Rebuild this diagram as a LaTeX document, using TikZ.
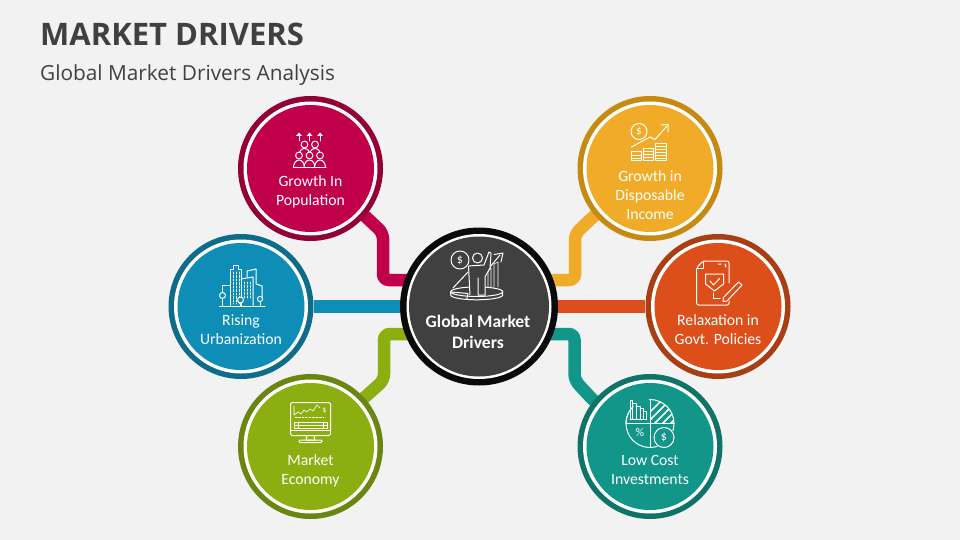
\documentclass[tikz,border=0pt]{standalone}
\usepackage{fontspec}
\setmainfont{Carlito}
\newfontfamily\titlefont{Open Sans}
\usetikzlibrary{backgrounds}
\definecolor{pagebg}{HTML}{F2F2F2}
\definecolor{inktext}{HTML}{404040}
\definecolor{popcol}{HTML}{C0004A}
\definecolor{popring}{HTML}{920037}
\definecolor{inccol}{HTML}{F0AC28}
\definecolor{incring}{HTML}{C68A10}
\definecolor{relcol}{HTML}{DD4F1A}
\definecolor{relring}{HTML}{A83E14}
\definecolor{riscol}{HTML}{0E8DB7}
\definecolor{risring}{HTML}{0C6C8A}
\definecolor{mktcol}{HTML}{8BAF10}
\definecolor{mktring}{HTML}{6A8510}
\definecolor{lowcol}{HTML}{12968A}
\definecolor{lowring}{HTML}{0E7369}
\tikzset{
  drvcircle/.style 2 args={circle,minimum size=145pt,inner sep=0pt,fill=#2,
    path picture={\fill[white] (path picture bounding box.center) circle (67);
      \fill[#1] (path picture bounding box.center) circle (63.5);}},
  hubcircle/.style={circle,minimum size=158pt,inner sep=0pt,fill=black!96,
    path picture={\fill[white] (path picture bounding box.center) circle (72.5);
      \fill[inktext] (path picture bounding box.center) circle (70);}},
  drvlabel/.style={text=white,align=center,font=\fontsize{15.7}{19}\selectfont},
  linkline/.style={line width=12.5pt,rounded corners=6pt},
  icn/.style={draw=white,line width=1pt,line cap=round,line join=round},
  icnthin/.style={icn,line width=0.65pt},
}
\begin{document}
\begin{tikzpicture}[x=1pt,y=-1pt]
\useasboundingbox (0,0) rectangle (960,540);
% circles
\node[hubcircle] (hub) at (479,306.5) {};
\node[drvcircle={popcol}{popring}] (popn) at (310.5,168.5) {};
\node[drvcircle={inccol}{incring}] (incm) at (650,168.5) {};
\node[drvcircle={relcol}{relring}] (relx) at (718,306.5) {};
\node[drvcircle={riscol}{risring}] (risg) at (241,306.5) {};
\node[drvcircle={mktcol}{mktring}] (mrkt) at (310.5,446.5) {};
\node[drvcircle={lowcol}{lowring}] (lowc) at (650,446.5) {};
% bends of the links
\coordinate (popA) at (366,217);
\coordinate (popB) at (383,233);
\coordinate (popC) at (383,280);
\coordinate (incA) at (593,217);
\coordinate (incB) at (575,234);
\coordinate (incC) at (575,280);
\coordinate (mktA) at (365,397);
\coordinate (mktB) at (384,380);
\coordinate (mktC) at (384,334);
\coordinate (lowA) at (593,400);
\coordinate (lowB) at (574.5,380);
\coordinate (lowC) at (574.5,334);
\begin{pgfonlayer}{background}
\fill[pagebg] (0,0) rectangle (960,540);
\draw[linkline,draw=popcol] (popn) -- (popA) -- (popB) -- (popC) -- (popC -| hub.center);
\draw[linkline,draw=inccol] (incm) -- (incA) -- (incB) -- (incC) -- (incC -| hub.center);
\draw[linkline,draw=mktcol] (mrkt) -- (mktA) -- (mktB) -- (mktC) -- (mktC -| hub.center);
\draw[linkline,draw=lowcol] (lowc) -- (lowA) -- (lowB) -- (lowC) -- (lowC -| hub.center);
\draw[linkline,draw=riscol] (risg) -- (hub);
\draw[linkline,draw=relcol] (relx) -- (hub);
\end{pgfonlayer}
% title
\node[anchor=west,inner sep=0pt,text=inktext,font=\titlefont\bfseries\fontsize{31}{36}\selectfont] (ttl) at (40,34) {MARKET DRIVERS};
\node[anchor=west,inner sep=0pt,text=inktext,font=\titlefont\fontsize{20.8}{24}\selectfont] (sub) at (40,75) {Global Market Drivers Analysis};
% labels
\node[drvlabel,font=\bfseries\fontsize{17.6}{21}\selectfont] (hublbl) at (478,331.5) {Global Market\\Drivers};
\node[drvlabel] (poplbl) at (310.5,192) {Growth In\\Population};
\node[drvlabel] (inclbl) at (650,195.5) {Growth in\\Disposable\\Income};
\node[drvlabel] (rellbl) at (718,329.5) {Relaxation in\\Govt. Policies};
\node[drvlabel] (rislbl) at (241,329.5) {Rising\\Urbanization};
\node[drvlabel] (mktlbl) at (310.5,470.5) {Market\\Economy};
\node[drvlabel] (lowlbl) at (650,469.5) {Low Cost\\Investments};
% icon: people
\foreach \x in {304.5,315}{
  \draw[icn] (\x,144.5) circle (3.4);
  \draw[icn] (\x-5.5,155) arc (180:360:5.5 and 6.5);
}
\foreach \x in {299,309.5,320}{
  \draw[icn] (\x,141) -- (\x,134.5);
  \fill[white] (\x-3,136) -- (\x,132.5) -- (\x+3,136) -- cycle;
  \fill[popcol] (\x-5.5,167.5) arc (180:360:5.5 and 7.5) -- cycle;
  \draw[icn] (\x-5.5,167.5) arc (180:360:5.5 and 7.5);
  \fill[popcol] (\x,155.5) circle (3.4);
  \draw[icn] (\x,155.5) circle (3.4);
}
\draw[icn] (293.5,167.5) -- (326,167.5);
% icon: income
\draw[icn] (639,131.5) circle (8);
\node[text=white,inner sep=0pt,font=\fontsize{11}{11}\selectfont] (incdol) at (639,131.5) {\$};
\draw[icn] (631.5,147) -- (650,137) -- (655,139.5) -- (667,126);
\draw[icn] (661,125) -- (668,124.5) -- (668,132);
\draw[icn] (631.5,152) rectangle (641.5,160.5);
\draw[icn] (643.5,148.5) rectangle (653.5,160.5);
\draw[icn] (655,143.5) rectangle (666,160.5);
\foreach \y in {155,158}{\draw[icnthin] (631.5,\y) -- (641.5,\y);}
\foreach \y in {151.5,154.5,157.5}{\draw[icnthin] (643.5,\y) -- (653.5,\y);}
\foreach \y in {146.5,149.5,152.5,155.5,158}{\draw[icnthin] (655,\y) -- (666,\y);}
% icon: policy sheet
\draw[icn,rounded corners=2pt] (729,283) -- (729,261) -- (703,261) -- (696.7,267.5) -- (696.7,305) -- (729,305) -- (729,301);
\draw[icn] (696.7,268) -- (703,268) -- (703,261);
\draw[icn] (718,264) -- (721,264) (725,264) -- (726,267);
\draw[icn] (705.5,274) -- (723.5,274) -- (723.5,284) -- (714.5,291) -- (705.5,284) -- cycle;
\draw[icn] (710,281) -- (713.5,285) -- (719.5,278.5);
\draw[icn] (713,293) -- (713,298) -- (720,298);
\draw[icn] (723.5,297.5) -- (738.5,282) -- (742,285) -- (727,301) -- (723,301.5) -- cycle;
% icon: city
\draw[icn] (219.5,306.5) -- (265,306.5);
\draw[icn] (230,306) -- (230,269) -- (233,269) -- (233,265) -- (238,265) -- (238,269) -- (241,269) -- (241,306);
\draw[icn] (241,279) -- (253,277) -- (253,306);
\draw[icn] (247,277) -- (247,271) -- (256,269) -- (256,284) -- (262,286) -- (262,297);
\draw[icn] (222,292) -- (222,285) -- (230,285);
\foreach \x in {233,236,239}{\draw[icnthin,dash pattern=on 2pt off 1.5pt] (\x,272) -- (\x,304);}
\foreach \x in {244,247,250}{\draw[icnthin,dash pattern=on 2pt off 1.5pt] (\x,282) -- (\x,298);}
\foreach \x/\y/\r in {222.5/295.5/3,240.5/300/3,260/299/2.6}{
  \fill[riscol] (\x,\y) circle (\r);
  \draw[icn] (\x,\y) circle (\r);
  \draw[icn] (\x,\y+\r) -- (\x,306.5);
}
% icon: monitor
\draw[icn,rounded corners=1.5pt] (290.5,402.5) rectangle (330.5,435.5);
\draw[icn] (290.5,430.5) -- (330.5,430.5);
\draw[icn] (307,435.5) -- (306,440) -- (315,440) -- (314,435.5);
\draw[icn,rounded corners=1pt] (299,440) rectangle (322,442.5);
\draw[icnthin] (294,406) -- (294,415) -- (298,412) -- (301,414) -- (304,410) -- (307,412) -- (310,409) -- (313,411) -- (317,405) -- (320,408);
\node[text=white,inner sep=0pt,font=\fontsize{8}{8}\selectfont] (mktdol) at (324.5,410) {\$};
\draw[icnthin,dash pattern=on 2pt off 1.5pt] (295,417) -- (324,417);
\draw[icnthin] (294,422) rectangle (327,428);
\draw[icnthin] (294,425) -- (327,425);
\draw[icnthin] (298,422) -- (298,428) (323,422) -- (323,428);
% icon: pie
\draw[icn] (650,423.5) circle (24);
\draw[icn] (626,423.5) -- (674,423.5) (650,399.5) -- (650,447.5);
\begin{scope}
\clip (650,423.5) -- (650,399.5) arc (-90:0:24) -- cycle;
\foreach \k in {412,420,428,436,444}{\draw[icn,line width=1.7pt,line cap=butt] (650,\k) -- (680,\k-30);}
\end{scope}
\fill[lowcol] (629,399) rectangle (649,422.5);
\draw[icn] (650,399.5) -- (650,423.5);
\draw[icn] (626,423.5) arc (180:225:24);
\draw[icnthin] (630,419) -- (630,400) -- (632.7,400) -- (632.7,419) (632.7,403.3) -- (636,403.3) -- (636,419) (636,406.7) -- (640,406.7) -- (640,419) (640,408.3) -- (643.3,408.3) -- (643.3,419) (643.3,411) -- (646.7,411) -- (646.7,419) -- (630,419);
\node[text=white,inner sep=0pt,font=\fontsize{12}{12}\selectfont] (lowpct) at (640,432.5) {\%};
\fill[lowcol] (664,437.5) circle (11);
\draw[icn] (664,437.5) circle (10);
\node[text=white,inner sep=0pt,font=\fontsize{12}{12}\selectfont] (lowdol) at (664,437.5) {\$};
% icon: hub figure
\draw[icn] (476.7,291.7) ellipse (26 and 4.8);
\draw[icn] (450.7,291.7) -- (450.7,295) arc (180:0:26 and 4.8) -- (502.7,291.7);
\draw[icn] (450.7,292) -- (468,293.5) -- (466.7,299.5);
\draw[icn] (453,288) -- (468,272);
\draw[icn] (485,273) -- (500,255);
\draw[icn] (494,254.5) -- (503,253) -- (501,262);
\draw[icnthin] (488,287) -- (488,271) -- (491,268) -- (491,287) (494,287) -- (494,264) -- (498,262) -- (498,287);
\draw[icn] (460,260) circle (9);
\node[text=white,inner sep=0pt,font=\fontsize{12}{12}\selectfont] (hubdol) at (460,260) {\$};
\fill[inktext] (477.5,258) circle (5);
\draw[icn] (477.5,258) circle (5);
\fill[inktext] (468.5,266) -- (484,265) -- (489,252) -- (491,253) -- (490,268) -- (485,277) -- (485,295) -- (470,295) -- cycle;
\draw[icn] (470,295) -- (468.5,266) -- (484,265) -- (489,252) -- (491,253) -- (490,268) -- (485,277) -- (485,295) -- (478,295) -- (478,278);
\end{tikzpicture}
\end{document}
